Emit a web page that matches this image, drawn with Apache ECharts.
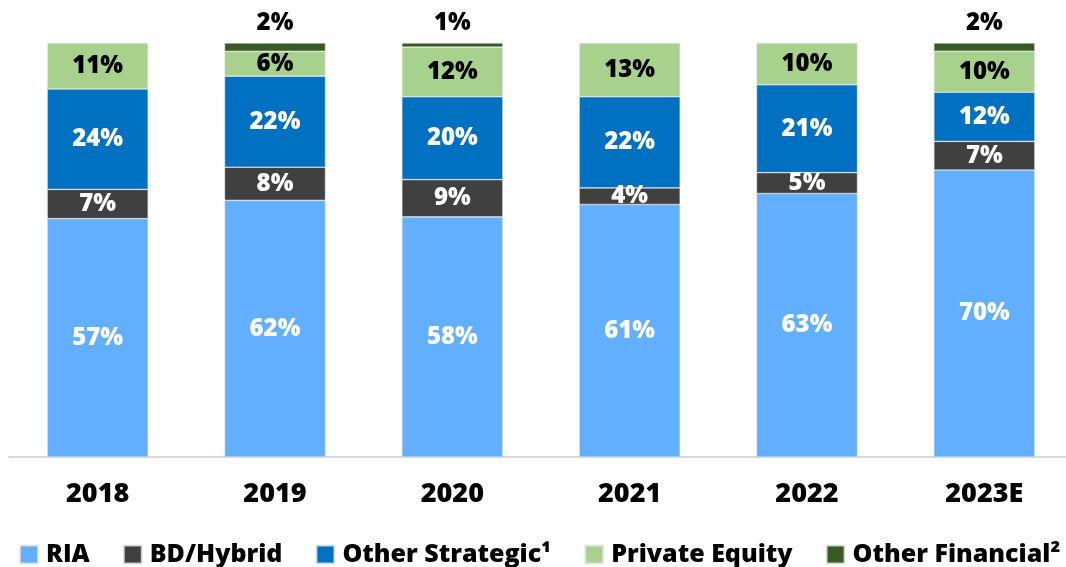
<!DOCTYPE html>
<html><head><meta charset="utf-8">
<script src="https://cdn.jsdelivr.net/npm/echarts@6/dist/echarts.min.js"></script>
<style>html,body{margin:0;padding:0;background:#fff;overflow:hidden}#c{width:1073px;height:567px}</style>
</head><body><div id="c"></div>
<script>
const categories = ['2018','2019','2020','2021','2022','2023E'];
const ria = [57, 62, 58, 61, 63, 70];
const bdHybrid = [7, 8, 9, 4, 5, 7];
const otherStrategic = [24, 22, 20, 22, 21, 12];
const privateEquity = [11, 6, 12, 13, 10, 10];
const otherFinancial = [0, 2, 1, 0, 0, 2];
const seriesNames = ['RIA','BD/Hybrid','Other Strategic\u00B9','Private Equity','Other Financial\u00B2'];
const colors = ['#62AFFF','#404040','#0070C0','#A9D18E','#3A5A24'];

const raw = [ria, bdHybrid, otherStrategic, privateEquity, otherFinancial];
const totals = categories.map((_, i) => raw.reduce((s, a) => s + a[i], 0));
const FONT = '"Open Sans"';
const labelColors = ['#fff','#fff','#fff','#000','#000'];

const series = raw.map((arr, k) => ({
  name: seriesNames[k],
  type: 'bar',
  stack: 'total',
  barWidth: 101,
  itemStyle: { color: colors[k], borderColor: 'rgba(230,230,230,0.8)', borderWidth: 0.6 },
  data: arr.map((v, i) => ({ value: v === 0 ? null : v / totals[i] * 100, raw: v })),
  label: {
    show: true,
    position: k === 4 ? 'top' : 'inside',
    distance: 8,
    color: labelColors[k],
    fontFamily: FONT,
    fontWeight: 800,
    fontSize: 24,
    formatter: p => p.data.raw + '%'
  }
}));

const chart = echarts.init(document.getElementById('c'));
chart.setOption({
  animation: false,
  color: colors,
  grid: { left: 9, right: 0, top: 43, bottom: 110 },
  xAxis: {
    type: 'category',
    data: categories,
    axisLine: { lineStyle: { color: '#D9D9D9', width: 2 } },
    axisTick: { show: false },
    axisLabel: { color: '#000', fontFamily: FONT, fontWeight: 800, fontSize: 27, margin: 24 }
  },
  yAxis: { type: 'value', min: 0, max: 100, show: false, splitLine: { show: false } },
  legend: {
    left: 19, top: 542, width: 1100, padding: 0,
    itemWidth: 18, itemHeight: 18, itemGap: 33,
    icon: 'rect',
    textStyle: { color: '#000', fontFamily: FONT, fontWeight: 800, fontSize: 25, padding: [0,0,0,3] },
    data: seriesNames
  },
  series: series
});
</script></body></html>
